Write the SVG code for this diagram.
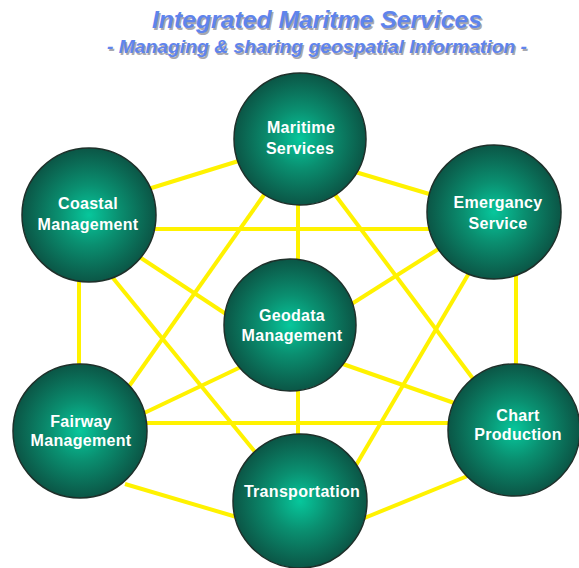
<svg xmlns="http://www.w3.org/2000/svg" width="579" height="568" viewBox="0 0 579 568">
<defs>
<radialGradient id="ball" cx="50%" cy="50%" r="50%">
<stop offset="0" stop-color="#07c79c"/>
<stop offset="0.45" stop-color="#0a8f70"/>
<stop offset="1" stop-color="#0b5646"/>
</radialGradient>
<style>
.node circle{fill:url(#ball);stroke:#1e302a;stroke-width:1.5}
.node text{fill:#ffffff;font-family:"Liberation Sans",Arial,sans-serif;font-size:16px;font-weight:bold;text-anchor:middle;letter-spacing:0.3px}
.conn line{stroke:#fff200;stroke-width:4;stroke-linecap:butt}
.title{font-family:"Liberation Sans",Arial,sans-serif;font-weight:bold;font-style:italic;text-anchor:middle}
</style>
</defs>
<rect width="579" height="568" fill="#ffffff"/>
<g id="title">
<text class="title" x="318.5" y="29.5" font-size="24" textLength="330" lengthAdjust="spacingAndGlyphs" fill="#a8a8b0">Integrated  Maritme Services</text>
<text class="title" x="317" y="28" font-size="24" textLength="330" lengthAdjust="spacingAndGlyphs" fill="#5f84ec">Integrated  Maritme Services</text>
<text class="title" x="318.5" y="54.5" font-size="18" textLength="420" lengthAdjust="spacingAndGlyphs" fill="#a8a8b0">- Managing &amp; sharing geospatial Information -</text>
<text class="title" x="317" y="53" font-size="18" textLength="420" lengthAdjust="spacingAndGlyphs" fill="#5f84ec">- Managing &amp; sharing geospatial Information -</text>
</g>
<g id="connectors" class="conn">
<line x1="145" y1="190" x2="245" y2="159"/>
<line x1="352" y1="171" x2="436" y2="196"/>
<line x1="150" y1="229" x2="432" y2="229"/>
<line x1="135" y1="254" x2="232" y2="318"/>
<line x1="440" y1="248" x2="350" y2="305"/>
<line x1="140" y1="415" x2="245" y2="365"/>
<line x1="340" y1="363" x2="460" y2="405"/>
<line x1="79" y1="270" x2="79" y2="372"/>
<line x1="516" y1="272" x2="516" y2="370"/>
<line x1="145" y1="423" x2="456" y2="423"/>
<line x1="266" y1="192" x2="125" y2="392"/>
<line x1="333" y1="192" x2="480" y2="388"/>
<line x1="108" y1="272" x2="260" y2="458"/>
<line x1="472" y1="268" x2="352" y2="472"/>
<line x1="125" y1="484" x2="240" y2="518"/>
<line x1="362" y1="519" x2="470" y2="475"/>
<line x1="298" y1="198" x2="298" y2="268"/>
<line x1="298" y1="385" x2="298" y2="442"/>
</g>
<g id="maritime-services" class="node">
<circle cx="300" cy="139" r="66"/>
<text x="301" y="133">Maritime</text>
<text x="300" y="154">Services</text>
</g>
<g id="coastal-management" class="node">
<circle cx="89" cy="215" r="67"/>
<text x="88" y="209">Coastal</text>
<text x="88" y="230">Management</text>
</g>
<g id="emergancy-service" class="node">
<circle cx="494" cy="212" r="67"/>
<text x="498" y="208">Emergancy</text>
<text x="498" y="229">Service</text>
</g>
<g id="geodata-management" class="node">
<circle cx="290" cy="325" r="66"/>
<text x="292" y="321">Geodata</text>
<text x="292" y="341">Management</text>
</g>
<g id="fairway-management" class="node">
<circle cx="80" cy="431" r="67"/>
<text x="81" y="427">Fairway</text>
<text x="81" y="446">Management</text>
</g>
<g id="chart-production" class="node">
<circle cx="514" cy="430" r="66"/>
<text x="518" y="421">Chart</text>
<text x="518" y="440">Production</text>
</g>
<g id="transportation" class="node">
<circle cx="300" cy="501" r="67"/>
<text x="302" y="497">Transportation</text>
</g>
</svg>
